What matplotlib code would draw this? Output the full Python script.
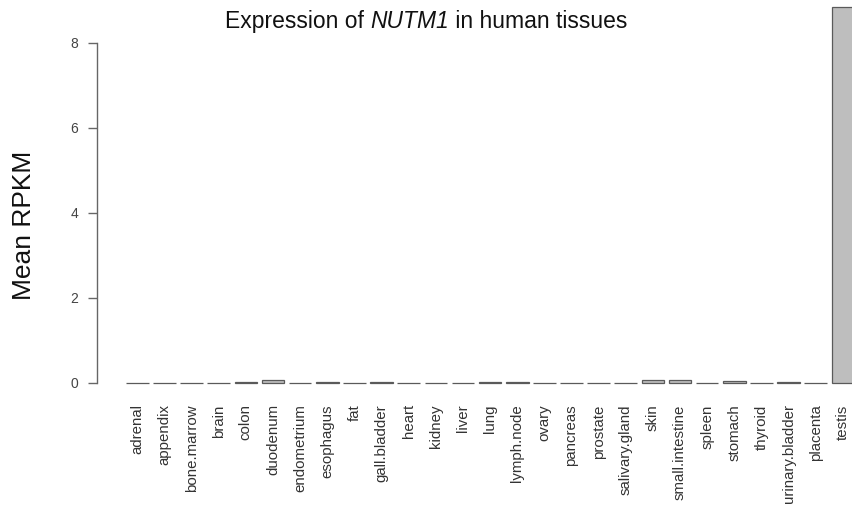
import matplotlib
matplotlib.use("Agg")
import matplotlib.pyplot as plt
import numpy as np

plt.rcParams['font.family'] = ['Liberation Sans', 'DejaVu Sans']

# Mean RPKM per tissue
tissues = ["adrenal", "appendix", "bone.marrow", "brain", "colon", "duodenum",
           "endometrium", "esophagus", "fat", "gall.bladder", "heart", "kidney",
           "liver", "lung", "lymph.node", "ovary", "pancreas", "prostate",
           "salivary.gland", "skin", "small.intestine", "spleen", "stomach",
           "thyroid", "urinary.bladder", "placenta", "testis"]
rpkm = [0.01, 0.01, 0.01, 0.01, 0.03, 0.06,
        0.01, 0.02, 0.01, 0.02, 0.01, 0.01,
        0.01, 0.02, 0.02, 0.01, 0.01, 0.01,
        0.01, 0.08, 0.07, 0.01, 0.04,
        0.01, 0.02, 0.01, 8.84]
yticks = [0, 2, 4, 6, 8]

W, H = 853, 513
fig = plt.figure(figsize=(W / 100, H / 100), dpi=100)

# R barplot style layout: width 1, space 0.2
x = 0.2 + np.arange(len(tissues)) * 1.2 + 0.5
x_lo, x_hi = -1.096, 33.896
y_lo, y_hi = -0.354, 9.19

ax = fig.add_axes([96.7 / W, (H - 398) / H, (888 - 96.7) / W, (398 + 7.6) / H])
ax.bar(x, rpkm, width=1.0, color='#bebebe', edgecolor='#5a5a5a', linewidth=0.9)
ax.set_xlim(x_lo, x_hi)
ax.set_ylim(y_lo, y_hi)

for s in ['top', 'right', 'bottom']:
    ax.spines[s].set_visible(False)
ax.spines['left'].set_bounds(0, 8)
ax.spines['left'].set_color('#666666')
ax.spines['left'].set_linewidth(1.0)

ax.set_yticks(yticks)
ax.set_yticklabels([str(v) for v in yticks])
ax.tick_params(axis='y', length=6.5, width=1.0, color='#666666', pad=7,
               labelsize=10, labelcolor='#444444')

ax.set_xticks(x)
ax.set_xticklabels(tissues, rotation=90, va='top', ha='center')
ax.tick_params(axis='x', length=0, pad=4.5, labelsize=10.8, labelcolor='#333333')

# title in three pieces so the gene name is fully italic
pieces = [("Expression of ", 'normal'), ("NUTM1", 'italic'), (" in human tissues", 'normal')]
renderer = fig.canvas.get_renderer()
texts = []
total = 0
for s, st in pieces:
    t = fig.text(0, 1 - 28 / H, s, fontsize=16.5, style=st, color='#111111',
                 va='baseline', ha='left')
    w = t.get_window_extent(renderer).width
    texts.append((t, w))
    total += w
cur = 426 - total / 2
for t, w in texts:
    t.set_x(cur / W)
    cur += w

fig.text(24 / W, 1 - 225 / H, 'Mean RPKM', rotation=90, ha='center', va='center',
         fontsize=19, color='#111111')

fig.savefig('out.png', dpi=100)
